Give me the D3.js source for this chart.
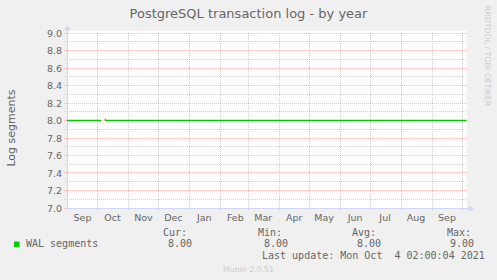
<!DOCTYPE html>
<html><head><meta charset="utf-8">
<script src="https://cdn.jsdelivr.net/npm/d3@7"></script>
<style>
html,body{margin:0;padding:0;background:#f0f0f0;}
svg{display:block;}
text{font-family:"DejaVu Sans",sans-serif;}
.mono{font-family:"DejaVu Sans Mono",monospace;white-space:pre;}
</style></head>
<body>
<svg id="chart" width="497" height="280"></svg>
<script>
// ---- data ----
const title = "PostgreSQL transaction log - by year";
const yLabel = "Log segments";
const seriesName = "WAL segments";
const timeDomain = ["2020-08-31T12:00:00Z", "2021-10-06T00:00:00Z"];
const monthLabels = ["Sep","Oct","Nov","Dec","Jan","Feb","Mar","Apr","May","Jun","Jul","Aug","Sep"];
const yTicks = [7.0,7.2,7.4,7.6,7.8,8.0,8.2,8.4,8.6,8.8,9.0];
const yMinorTicks = [7.1,7.3,7.5,7.7,7.9,8.1,8.3,8.5,8.7,8.9];
const walDates = ["2020-08-31T12:00:00Z","2020-10-04T12:00:00Z","2020-10-06T12:00:00Z","2020-10-08T12:00:00Z","2020-10-09T12:00:00Z","2021-10-05T12:00:00Z"];
const walValues = [8.0, 8.0, null, 8.02, 8.0, 8.0];
const statLabels = ["Cur:","Min:","Avg:","Max:"];
const statValues = ["8.00","8.00","8.00","9.00"];
const lastUpdate = "Last update: Mon Oct  4 02:00:04 2021";
const watermark = "RRDTOOL / TOBI OETIKER";
const footer = "Munin 2.0.51";

// ---- drawing ----
const svg = d3.select("#chart");
const L = 67, R = 467, T = 33, B = 208;
const FONT = "#666666", AXIS = "#CFD6F8";
const MGRID = "rgba(255,0,0,0.26)", GRID = "rgba(150,150,150,0.45)";
const x = d3.scaleUtc().domain(timeDomain.map(d => new Date(d))).range([L, R]);
const y = d3.scaleLinear().domain([7, 9]).range([B, T]);
const px = v => Math.floor(v) + 0.5;

svg.append("rect").attr("width",497).attr("height",280).attr("fill","#f0f0f0");
svg.append("rect").attr("x",L).attr("y",T-2).attr("width",R-L).attr("height",B-T+2).attr("fill","#fff");

// minor horizontal grid
svg.append("g").selectAll("line").data(yMinorTicks).join("line")
  .attr("x1",L-2).attr("x2",R).attr("y1",d=>px(y(d))).attr("y2",d=>px(y(d)))
  .attr("stroke",GRID).attr("stroke-dasharray","1,1");
// major horizontal grid
svg.append("g").selectAll("line").data(yTicks).join("line")
  .attr("x1",L-3).attr("x2",R).attr("y1",d=>px(y(d))).attr("y2",d=>px(y(d)))
  .attr("stroke",MGRID).attr("stroke-dasharray","1,1");
// vertical month grid
const monthStarts = d3.utcMonth.range(x.domain()[0], x.domain()[1]);
svg.append("g").selectAll("line").data(monthStarts.slice(1)).join("line")
  .attr("x1",d=>px(x(d))).attr("x2",d=>px(x(d))).attr("y1",T).attr("y2",B+3)
  .attr("stroke",MGRID).attr("stroke-dasharray","1,1");

// axes
const axisG = svg.append("g");
axisG.append("line").attr("x1",L+0.5).attr("x2",L+0.5).attr("y1",B+2).attr("y2",T-4).attr("stroke",AXIS);
axisG.append("line").attr("x1",L-2).attr("x2",R+3).attr("y1",B+0.5).attr("y2",B+0.5).attr("stroke",AXIS);
axisG.append("path").attr("d",`M${L-2.5},${T-3} L${L+3.5},${T-3} L${L+0.5},${T-8} Z`).attr("fill",AXIS);
axisG.append("path").attr("d",`M${R+2},${B-2.5} L${R+2},${B+3.5} L${R+7},${B+0.5} Z`).attr("fill",AXIS);

// y tick labels
const yAxis = d3.axisLeft(y).tickValues(yTicks).tickFormat(d3.format(".1f")).tickSize(0).tickPadding(0);
const yg = svg.append("g").attr("transform",`translate(${L-5},0)`).call(yAxis);
yg.select(".domain").remove();
yg.selectAll("text").attr("fill",FONT).attr("font-size","9.5px").attr("font-family","DejaVu Sans");

// month labels at mid-month
const labelPos = monthStarts.slice(0, monthLabels.length).map(d => d3.utcDay.offset(d, 15));
svg.append("g").selectAll("text").data(monthLabels).join("text")
  .attr("x",(d,i)=>x(labelPos[i])).attr("y",221)
  .attr("text-anchor","middle").attr("fill",FONT).attr("font-size","9.5px").text(d=>d);

// series
const pts = walDates.map((d,i)=>({t:new Date(d), v:walValues[i]}));
const line = d3.line().defined(d=>d.v!==null).x(d=>x(d.t)).y(d=>y(d.v));
svg.append("path").datum(pts).attr("d",line).attr("fill","none").attr("stroke","#00cc00").attr("stroke-width",1.3);

// title and labels
svg.append("text").attr("x",248.5).attr("y",18).attr("text-anchor","middle")
  .attr("fill",FONT).attr("font-size","13px").text(title);
svg.append("text").attr("transform","translate(15,128) rotate(-90)").attr("text-anchor","middle")
  .attr("fill",FONT).attr("font-size","11px").text(yLabel);
svg.append("text").attr("transform","translate(485,56) rotate(90)").attr("text-anchor","middle")
  .attr("fill","#cccccc").attr("font-size","7.8px").text(watermark);

// legend
svg.append("rect").attr("x",14).attr("y",241.5).attr("width",5.5).attr("height",5.5).attr("fill","#00cc00");
svg.append("text").attr("class","mono").attr("x",26).attr("y",247).attr("fill",FONT).attr("font-size","10px").text(seriesName);
const labX = [163,258,352,447], valX = [168,264,357,450];
svg.append("g").selectAll("text").data(statLabels).join("text").attr("class","mono")
  .attr("x",(d,i)=>labX[i]).attr("y",236).attr("fill",FONT).attr("font-size","10px").text(d=>d);
svg.append("g").selectAll("text").data(statValues).join("text").attr("class","mono")
  .attr("x",(d,i)=>valX[i]).attr("y",247).attr("fill",FONT).attr("font-size","10px").text(d=>d);
svg.append("text").attr("class","mono").attr("x",262).attr("y",259).attr("fill",FONT).attr("font-size","10px").text(lastUpdate);
svg.append("text").attr("x",248.5).attr("y",272).attr("text-anchor","middle").attr("fill","#cccccc").attr("font-size","7.8px").text(footer);
</script>
</body></html>
